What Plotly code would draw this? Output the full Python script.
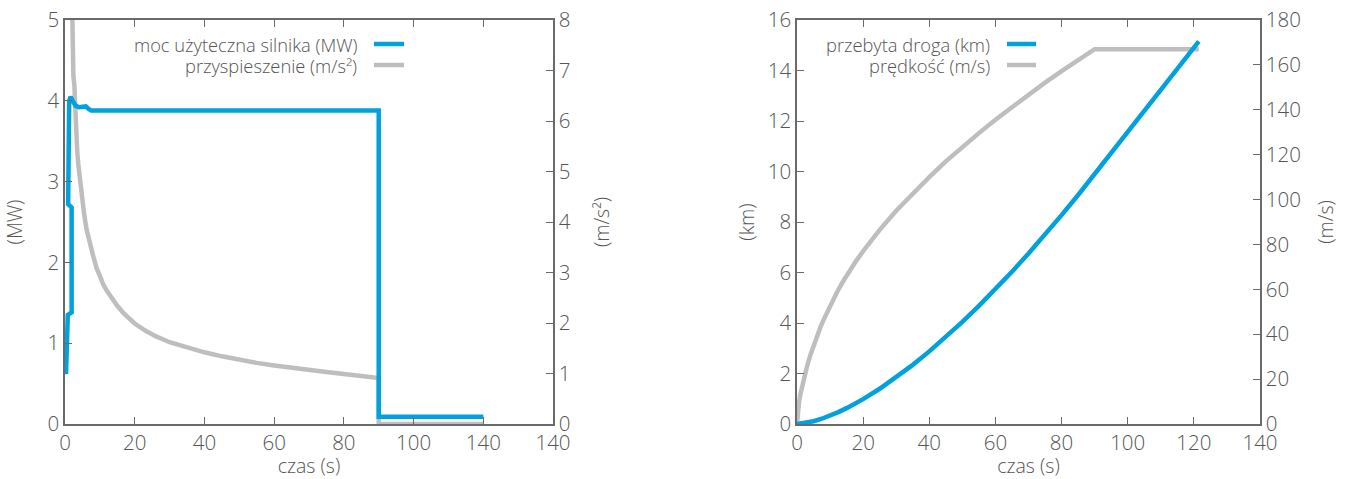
import plotly.graph_objects as go

# ---------------- data ----------------
# left chart: engine power (MW) and acceleration (m/s^2) vs time (s)
power_t = [0.0, 0.3, 0.8, 1.9, 1.9, 0.9, 1.2, 1.6, 2.2, 3.0, 4.0, 5.0, 6.0, 6.8, 7.5, 90.0, 90.0, 120.0]
power_mw = [0.68, 0.62, 1.35, 1.38, 2.68, 2.72, 4.0, 4.05, 4.0, 3.94, 3.92, 3.92, 3.93, 3.9, 3.88, 3.88, 0.09, 0.09]

accel_t = [1.6, 1.9, 2.0, 2.2, 2.4, 2.7, 2.9, 3.2, 3.5, 3.8, 4.3, 5.0, 5.5, 6.2, 7, 8, 9, 10, 11, 12, 13, 14, 15,
           17, 20, 23, 26, 30, 35, 40, 45, 50, 55, 60, 65, 70, 75, 80, 85, 90, 90, 120]
accel = [10, 8.3, 7.35, 7.0, 6.9, 6.7, 6.3, 5.8, 5.4, 5.15, 4.8, 4.4, 4.15, 3.85, 3.6, 3.35, 3.1, 2.9, 2.76, 2.64,
         2.53, 2.43, 2.34, 2.18, 1.99, 1.85, 1.74, 1.62, 1.51, 1.42, 1.34, 1.27, 1.21, 1.16, 1.11, 1.07, 1.03,
         0.99, 0.95, 0.91, 0, 0]

# right chart: distance (km) and speed (m/s) vs time (s)
dist_t = [0, 2.5, 5, 7.5, 10, 12.5, 15, 17.5, 20, 25, 30, 35, 40, 45, 50, 55, 60, 65, 70, 75, 80, 85, 90,
          100, 110, 121.5]
dist_km = [0, 0.035, 0.108, 0.208, 0.329, 0.47, 0.628, 0.8, 0.986, 1.395, 1.849, 2.343, 2.875, 3.443, 4.044,
           4.677, 5.34, 6.032, 6.752, 7.5, 8.273, 9.071, 9.894, 11.564, 13.234, 15.155]

speed_t = [0, 0.3, 0.6, 1, 1.5, 2, 3, 4, 5, 6, 7, 8, 9, 10, 12, 14, 16, 18, 20, 25, 30, 35, 40, 45, 50, 55, 60,
           65, 70, 75, 80, 85, 90, 121.5]
speed = [0, 6, 9.5, 13, 16.5, 20, 25.5, 30.5, 35, 39, 42.8, 46.3, 49.6, 52.7, 58.5, 63.7, 68.5, 72.9, 77, 86.5,
         95, 102.8, 110, 117, 123.5, 129.6, 135.6, 141.3, 146.8, 152.1, 157.2, 162.2, 167, 167]

x_ticks = [0, 20, 40, 60, 80, 100, 120, 140]
x_ticktext_left = ["0", "20", "40", "60", "80", "100", "140", "140"]
x_ticktext_right = ["0", "20", "40", "60", "80", "100", "120", "140"]

legend_left = ["moc użyteczna silnika (MW)", "przyspieszenie (m/s²)"]
legend_right = ["przebyta droga (km)", "prędkość (m/s)"]

# ---------------- styling ----------------
W, H = 1345, 479
BLUE = "#00a1dc"
GRAY = "#bebebe"
TXT = "#555555"
AX = "#6a6a6a"
FONT = "Open Sans"


def px(x):
    return x / W


def py(y):
    return 1 - y / H


fig = go.Figure()

# gray on base axes (drawn below), blue on overlaying axes (drawn on top)
fig.add_trace(go.Scatter(x=accel_t, y=accel, mode="lines", line=dict(color=GRAY, width=4.5),
                         xaxis="x", yaxis="y", name=legend_left[1]))
fig.add_trace(go.Scatter(x=power_t, y=power_mw, mode="lines", line=dict(color=BLUE, width=4.5),
                         xaxis="x", yaxis="y2", name=legend_left[0]))
fig.add_trace(go.Scatter(x=speed_t, y=speed, mode="lines", line=dict(color=GRAY, width=4.5),
                         xaxis="x2", yaxis="y3", name=legend_right[1]))
fig.add_trace(go.Scatter(x=dist_t, y=dist_km, mode="lines", line=dict(color=BLUE, width=4.5),
                         xaxis="x2", yaxis="y4", name=legend_right[0]))

ydom = [py(424), py(20)]
common_ax = dict(showline=True, linecolor=AX, linewidth=1.5, ticks="inside", ticklen=7, tickwidth=1.2,
                 tickcolor=AX, showgrid=False, zeroline=False, automargin=False,
                 tickfont=dict(family=FONT, size=20.5, color=TXT, weight=300),
                 title_font=dict(family=FONT, size=19.5, color=TXT, weight=300))

fig.update_layout(
    width=W, height=H, margin=dict(l=0, r=0, t=0, b=0),
    paper_bgcolor="white", plot_bgcolor="white", showlegend=False,
    xaxis=dict(domain=[px(65), px(553)], range=[0, 140], tickvals=x_ticks, ticktext=x_ticktext_left,
               mirror="ticks", anchor="y", title=dict(text="czas (s)", standoff=13), **common_ax),
    yaxis=dict(domain=ydom, range=[0, 8], dtick=1, side="right", anchor="x",
               title=dict(text="(m/s²)", standoff=26), **common_ax),
    yaxis2=dict(range=[0, 5], dtick=1, side="left", overlaying="y", anchor="x",
                title=dict(text="(MW)", standoff=20), **common_ax),
    xaxis2=dict(domain=[px(797), px(1260)], range=[0, 140], tickvals=x_ticks, ticktext=x_ticktext_right,
                mirror="ticks", anchor="y3", title=dict(text="czas (s)", standoff=13), **common_ax),
    yaxis3=dict(domain=ydom, range=[0, 180], dtick=20, side="right", anchor="x2",
                title=dict(text="(m/s)", standoff=19), **common_ax),
    yaxis4=dict(range=[0, 16], dtick=2, side="left", overlaying="y3", anchor="x2",
                title=dict(text="(km)", standoff=8), **common_ax),
)

# custom legends (text right-aligned, line sample on the right)
legend_rows = [
    (legend_left[0], BLUE, 359, 374, 404, 44),
    (legend_left[1], GRAY, 359, 374, 404, 65),
    (legend_right[0], BLUE, 992, 1007, 1036, 44),
    (legend_right[1], GRAY, 992, 1007, 1036, 65),
]
for text, col, xr, x0, x1, yy in legend_rows:
    fig.add_annotation(x=px(xr), y=py(yy), xref="paper", yref="paper", text=text, showarrow=False,
                       xanchor="right", yanchor="middle",
                       font=dict(family=FONT, size=18.3, color=TXT, weight=300))
    fig.add_shape(type="line", xref="paper", yref="paper", x0=px(x0), x1=px(x1), y0=py(yy), y1=py(yy),
                  line=dict(color=col, width=4.5))

fig.write_html("out.html")
